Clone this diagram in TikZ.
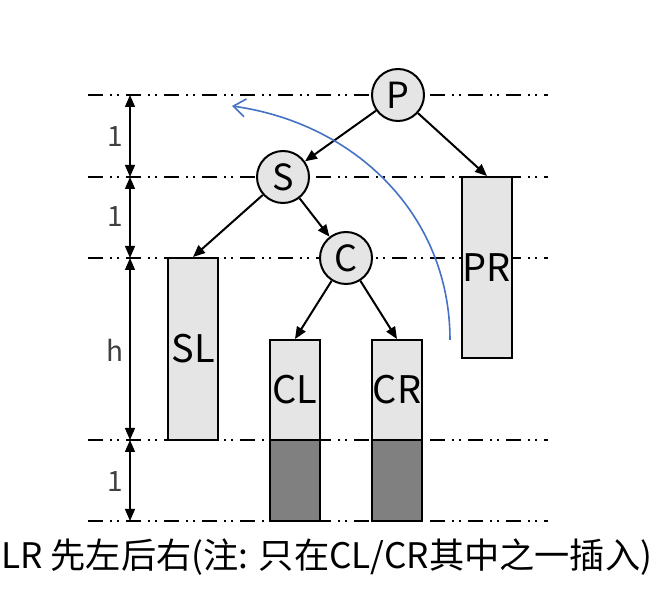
\documentclass[tikz,border=0pt]{standalone}
\usepackage{fontspec}
\setmainfont{Noto Sans CJK SC}
\usetikzlibrary{arrows.meta}

\begin{document}
\begin{tikzpicture}[x=0.5pt,y=0.5pt,
    vert/.style={circle,draw,line width=1pt,fill=black!10,minimum size=26pt,inner sep=0pt,font=\fontsize{18}{18}\selectfont},
    blk/.style={rectangle,draw,line width=1pt,fill=black!10,minimum width=25pt,inner sep=0pt,font=\fontsize{19}{19}\selectfont},
    darkblk/.style={rectangle,draw,line width=1pt,fill=black!50,minimum width=25pt,inner sep=0pt},
    level/.style={line width=1pt,dash pattern=on 7.5pt off 3.5pt on 1pt off 2.5pt on 1pt off 3.5pt},
    edge/.style={line width=1pt,-{Triangle[length=6pt,width=5pt]}},
    dim/.style={line width=0.6pt,{Triangle[length=6pt,width=5pt]}-{Triangle[length=6pt,width=5pt]}},
    dimlabel/.style={font=\fontsize{14}{14}\selectfont,text=black!75}]
      \useasboundingbox (0,0) rectangle (660,600);

      % level lines
      \coordinate (l1w) at (88,505); \coordinate (l1e) at (548,505);
      \coordinate (l2w) at (88,423); \coordinate (l2e) at (548,423);
      \coordinate (l3w) at (88,342); \coordinate (l3e) at (548,342);
      \coordinate (l4w) at (88,160); \coordinate (l4e) at (548,160);
      \coordinate (l5w) at (88,79);  \coordinate (l5e) at (548,79);
      \draw[level] (l1w) -- (l1e);
      \draw[level] (l2w) -- (l2e);
      \draw[level] (l3w) -- (l3e);
      \draw[level] (l4w) -- (l4e);
      \draw[level] (l5w) -- (l5e);

      % heights
      \coordinate (d1) at (130,505);
      \coordinate (d2) at (130,423);
      \coordinate (d3) at (130,342);
      \coordinate (d4) at (130,160);
      \coordinate (d5) at (130,79);
      \draw[dim] (d1) -- (d2);
      \draw[dim] (d2) -- (d3);
      \draw[dim] (d3) -- (d4);
      \draw[dim] (d4) -- (d5);
      \node[dimlabel] (h1) at (115,463) {1};
      \node[dimlabel] (h2) at (115,383) {1};
      \node[dimlabel] (h3) at (115,250) {h};
      \node[dimlabel] (h4) at (115,118) {1};

      % subtrees
      \node[blk,minimum height=91pt] (SL) at (193,251) {SL};
      \node[blk,minimum height=50pt] (CL) at (295,210) {CL};
      \node[blk,minimum height=50pt] (CR) at (397,210) {CR};
      \node[darkblk,minimum height=40.5pt] (CLx) at (295,119.5) {};
      \node[darkblk,minimum height=40.5pt] (CRx) at (397,119.5) {};
      \node[blk,minimum height=90.5pt] (PR) at (487,332.5) {PR};

      % nodes
      \node[vert] (P) at (398,505) {P};
      \node[vert] (S) at (283,423) {S};
      \node[vert] (C) at (346,342) {C};

      \draw[edge] (P) -- (S);
      \draw[edge] (P) -- (PR.north);
      \draw[edge] (S) -- (SL.north);
      \draw[edge] (S) -- (C);
      \draw[edge] (C) -- (CL.north);
      \draw[edge] (C) -- (CR.north);

      % rotation
      \coordinate (r1) at (450,260);
      \coordinate (r2) at (232,494);
      \draw[color={rgb,255:red,68;green,114;blue,196},line width=0.8pt,-{Straight Barb[length=6pt,width=9pt]}] (r1) to[out=90,in=-8] (r2);

      \node[anchor=west,inner sep=0pt,font=\fontsize{17.6}{17.6}\selectfont] (cap) at (1,43) {LR 先左后右(注: 只在CL/CR其中之一插入)};
    \end{tikzpicture}
\end{document}
